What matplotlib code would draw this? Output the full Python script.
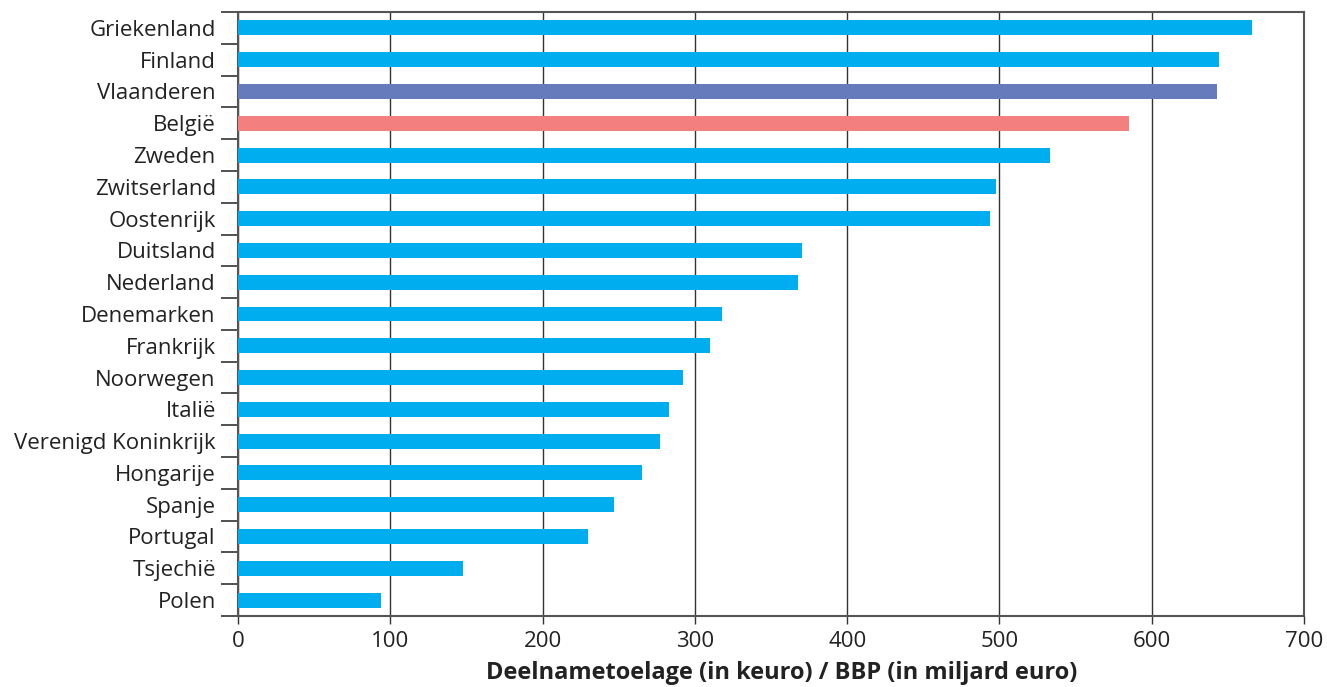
import matplotlib
matplotlib.use('Agg')
import matplotlib.pyplot as plt
import numpy as np

plt.rcParams['font.family'] = ['Open Sans', 'DejaVu Sans']

landen = ['Griekenland', 'Finland', 'Vlaanderen', 'België', 'Zweden', 'Zwitserland',
          'Oostenrijk', 'Duitsland', 'Nederland', 'Denemarken', 'Frankrijk', 'Noorwegen',
          'Italië', 'Verenigd Koninkrijk', 'Hongarije', 'Spanje', 'Portugal', 'Tsjechië', 'Polen']
waarden = [666, 644, 643, 585, 533, 498, 494, 370, 368, 318, 310, 292,
           283, 277, 265, 247, 230, 148, 94]

kleuren = []
for l in landen:
    if l == 'Vlaanderen':
        kleuren.append('#667bbb')
    elif l == 'België':
        kleuren.append('#f47f7f')
    else:
        kleuren.append('#00aeef')

fig = plt.figure(figsize=(13.27, 6.87), dpi=100)
ax = fig.add_axes([0.1794, 0.1034, 0.8033, 0.8791])

y = np.arange(len(landen))[::-1]
ax.barh(y, waarden, height=0.47, color=kleuren, zorder=3)

ax.set_xlim(0, 700)
ax.set_ylim(-0.5, len(landen) - 0.5)
ax.set_xticks(np.arange(0, 701, 100))
ax.tick_params(axis='x', labelsize=16, length=6, width=1, color='#333333', labelcolor='#222222', pad=5)
ax.grid(axis='x', color='#333333', linewidth=1, zorder=1)

# ticks between categories, labels at centres
ax.set_yticks(np.arange(-0.5, len(landen), 1))
ax.set_yticklabels([])
ax.tick_params(axis='y', which='major', length=12, width=1.2, color='#333333')
ax.set_yticks(y, minor=True)
ax.set_yticklabels(landen, minor=True)
ax.tick_params(axis='y', which='minor', length=0, labelsize=16, labelcolor='#222222', pad=16)

for s in ax.spines.values():
    s.set_color('#555555')
    s.set_linewidth(1.5)

ax.set_xlabel('Deelnametoelage (in keuro) / BBP (in miljard euro)', fontsize=17,
              fontweight='bold', color='#222222', labelpad=11)
ax.xaxis.set_label_coords(0.51, -0.075)

fig.savefig('out.png', dpi=100)
